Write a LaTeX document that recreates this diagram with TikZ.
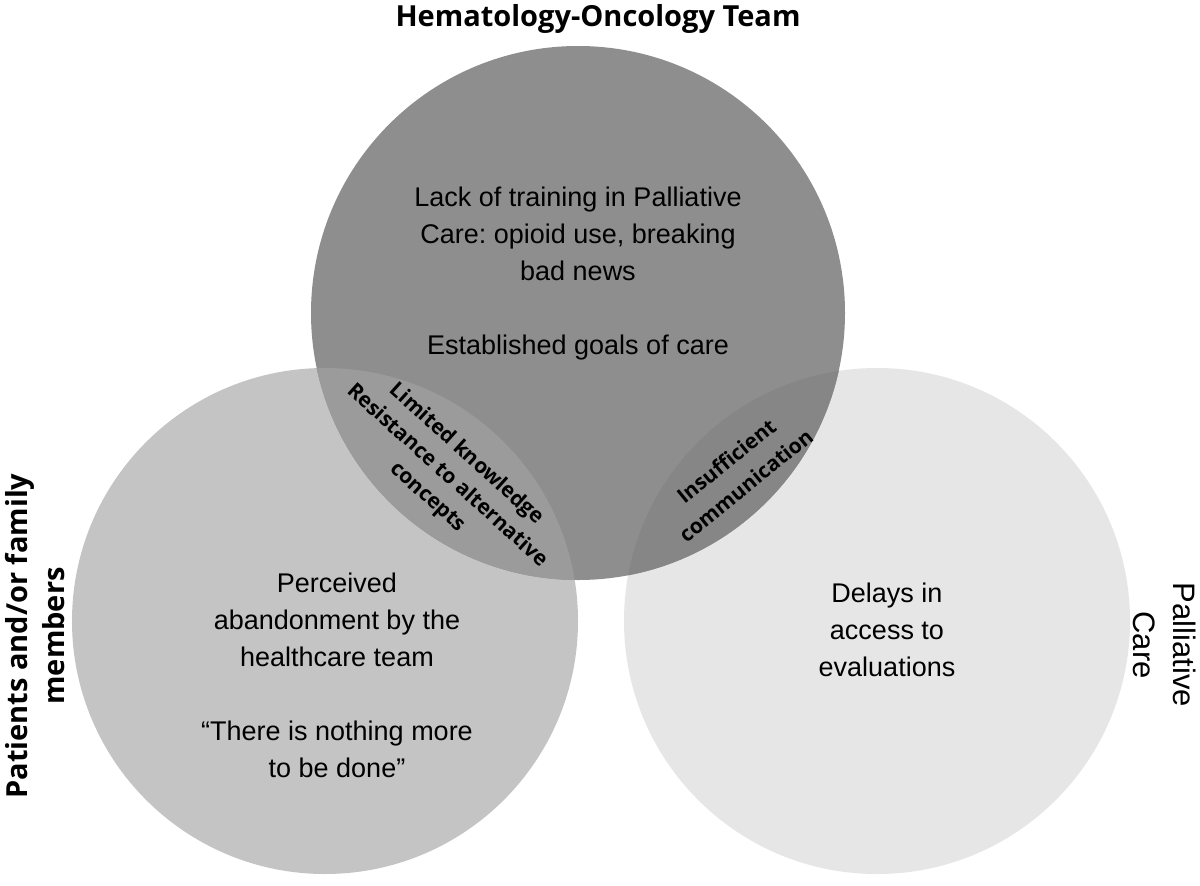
\documentclass[tikz,border=0pt]{standalone}
\usepackage{fontspec}
\setmainfont{Liberation Sans}
\newfontfamily\opensans{Open Sans}
\usepackage{tikz}
\usepackage{xcolor}
\usetikzlibrary{positioning}
\frenchspacing
\definecolor{cOnco}   {HTML}{8E8E8E}
\definecolor{cFamily} {HTML}{C4C4C4}
\definecolor{cPalli}  {HTML}{E6E6E6}
\definecolor{cLensL}  {HTML}{9B9B9B}
\definecolor{cLensR}  {HTML}{868686}
\tikzset{
  bodytext/.style={align=center, text=black, font=\fontsize{27}{37}\selectfont},
  lenstext/.style={align=center, text=black, font=\opensans\bfseries\fontsize{21}{29}\selectfont},
  sidetitle/.style={align=center, text=black, font=\opensans\bfseries\fontsize{29}{37}\selectfont},
}
\begin{document}
\begin{tikzpicture}[x=1pt, y=-1pt]
  \useasboundingbox (0,0) rectangle (1200,886);
  \fill[white] (0,0) rectangle (1200,886);
  \def\rOnco{267}
  \def\rSide{253}
  \coordinate (onco)   at (578,313);
  \coordinate (family) at (325,621);
  \coordinate (palli)  at (877,621);
  % three circles
  \fill[cFamily] (family) circle[radius=\rSide pt];
  \fill[cPalli]  (palli)  circle[radius=\rSide pt];
  \fill[cOnco]   (onco)   circle[radius=\rOnco pt];
  % overlaps
  \begin{scope}
    \clip (onco) circle[radius=\rOnco pt];
    \fill[cLensL] (family) circle[radius=\rSide pt];
    \fill[cLensR] (palli)  circle[radius=\rSide pt];
  \end{scope}
  % group titles
  \node[sidetitle] (oncotitle) at (598,19) {Hematology-Oncology Team};
  \node[sidetitle, rotate=90] (familytitle) at (35,636) {Patients and/or family\\members};
  \node[align=center, rotate=-90, font=\fontsize{31}{40}\selectfont] (pallititle) at (1165,645) {Palliative\\Care};
  % circle texts
  \node[bodytext] (oncotext) at (578,274)
    {Lack of training in Palliative\\Care: opioid use, breaking\\bad news\\[37pt]Established goals of care};
  \node[bodytext] (familytext) at (337,675)
    {Perceived\\abandonment by the\\healthcare team\\[37pt]“There is nothing more\\to be done”};
  \node[bodytext] (pallitext) at (887,630) {Delays in\\access to\\evaluations};
  % overlap texts
  \node[lenstext, rotate=-42] (lensleft) at (447,476)
    {Limited knowledge\\Resistance to alternative\\concepts};
  \node[lenstext, rotate=39, font=\opensans\bfseries\fontsize{21}{31}\selectfont] (lensright) at (736,473)
    {Insufficient\\communication};
\end{tikzpicture}
\end{document}
